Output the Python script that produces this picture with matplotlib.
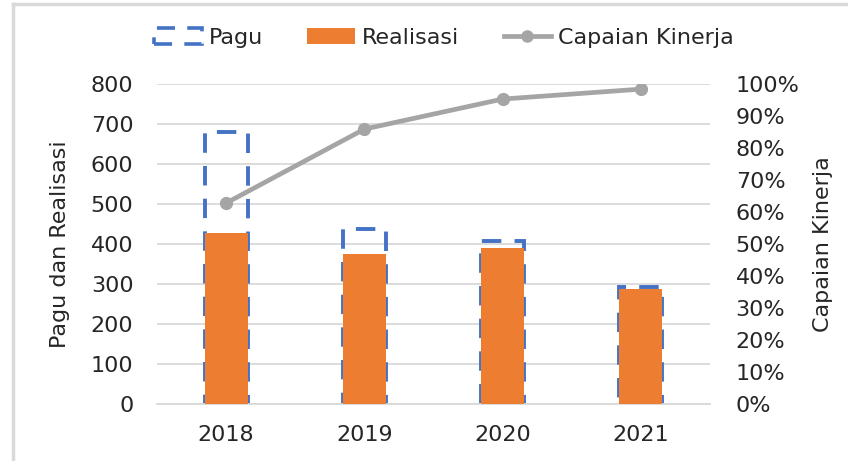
import matplotlib.pyplot as plt
from matplotlib.lines import Line2D
from matplotlib.patches import Patch
from matplotlib.ticker import FuncFormatter, MultipleLocator

plt.rcParams['font.family'] = ['DejaVu Sans']

# data
years = ['2018', '2019', '2020', '2021']
pagu = [680, 437, 408, 292]
realisasi = [427, 375, 390, 287]
capaian = [62.8, 85.9, 95.3, 98.4]

orange = '#ED7D31'
blue = '#4472C4'
grey = '#A5A5A5'
text_col = '#262626'
fs = 16
dash = (0, (5.0, 3.4))

fig = plt.figure(figsize=(8.48, 4.61), dpi=100)
ax = fig.add_axes([157 / 848, 57 / 461, 553 / 848, 320 / 461])
ax2 = ax.twinx()

x = list(range(len(years)))
w = 0.31
ax.bar(x, pagu, width=w, facecolor='none', edgecolor=blue, linewidth=2.8,
       linestyle=dash, zorder=2)
ax.bar(x, realisasi, width=w, color=orange, zorder=3)

ax2.plot(x, capaian, color=grey, linewidth=3.4, marker='o', markersize=8.5,
         solid_capstyle='round', zorder=4)

ax.set_xlim(-0.5, 3.5)
ax.set_ylim(0, 800)
ax.yaxis.set_major_locator(MultipleLocator(100))
ax2.set_ylim(0, 100)
ax2.yaxis.set_major_locator(MultipleLocator(10))
ax2.yaxis.set_major_formatter(FuncFormatter(lambda v, p: '{:.0f}%'.format(v)))

ax.set_xticks(x)
ax.set_xticklabels(years)
ax.grid(axis='y', color='#D9D9D9', linewidth=1.3, zorder=0)
ax.set_axisbelow(True)

for a in (ax, ax2):
    for s in a.spines.values():
        s.set_visible(False)
    a.tick_params(length=0, labelsize=fs, colors=text_col)
ax.spines['bottom'].set_visible(True)
ax.spines['bottom'].set_color('#D9D9D9')
ax.spines['bottom'].set_linewidth(1.3)
ax.tick_params(axis='y', pad=17)
ax.tick_params(axis='x', pad=15)
ax2.tick_params(axis='y', pad=18.5)

ax.set_ylabel('Pagu dan Realisasi', fontsize=fs, color=text_col)
ax2.set_ylabel('Capaian Kinerja', fontsize=fs, color=text_col)
ax.yaxis.set_label_coords(-0.158, 0.5)
ax2.yaxis.set_label_coords(1.186, 0.5)

handles = [
    Patch(facecolor='none', edgecolor=blue, linewidth=2.6, linestyle=dash),
    Patch(facecolor=orange),
    Line2D([0], [0], color=grey, linewidth=3.4, marker='o', markersize=8),
]
fig.legend(handles, ['Pagu', 'Realisasi', 'Capaian Kinerja'], loc='center',
           bbox_to_anchor=(444 / 848, 1 - 38 / 461), ncol=3, frameon=False,
           fontsize=fs, handlelength=2.15, handletextpad=0.3, columnspacing=2.0,
           labelcolor=text_col)

# chart border
fig.add_artist(Line2D([13 / 848, 13 / 848], [0, 1 - 4 / 461], color='#D9D9D9',
                      linewidth=2.5, transform=fig.transFigure))
fig.add_artist(Line2D([13 / 848, 1], [1 - 4 / 461, 1 - 4 / 461], color='#D9D9D9',
                      linewidth=2.5, transform=fig.transFigure))

fig.savefig('out.png', dpi=100)
